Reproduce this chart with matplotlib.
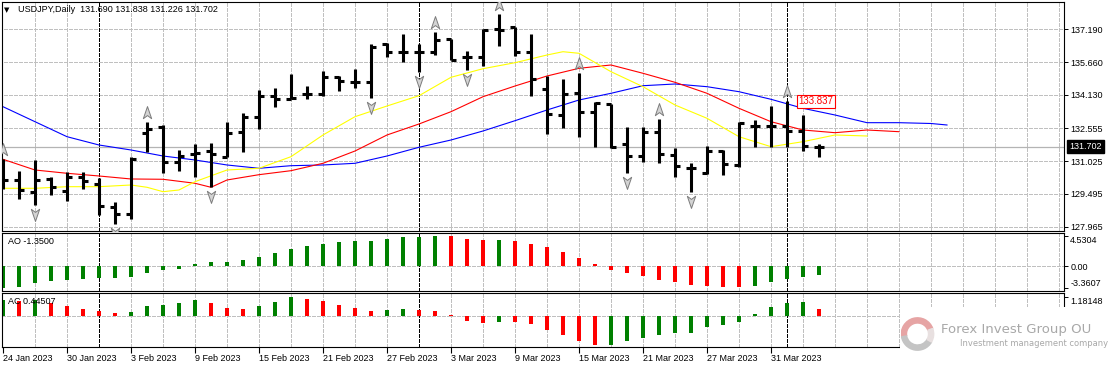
import numpy as np
import matplotlib
matplotlib.use('Agg')
import matplotlib.pyplot as plt
from matplotlib.path import Path
from matplotlib.patches import Wedge, Rectangle
from matplotlib.transforms import offset_copy, blended_transform_factory
from matplotlib import font_manager

plt.rcParams['font.family'] = ['Liberation Sans', 'DejaVu Sans']

symbol = 'USDJPY,Daily'
date_bars = [0, 4, 8, 12, 16, 20, 24, 28, 32, 36, 40, 44, 48]
date_labels = ['24 Jan 2023', '30 Jan 2023', '3 Feb 2023', '9 Feb 2023', '15 Feb 2023',
               '21 Feb 2023', '27 Feb 2023', '3 Mar 2023', '9 Mar 2023', '15 Mar 2023',
               '21 Mar 2023', '27 Mar 2023', '31 Mar 2023']
month_starts = [6, 26, 49]

opens = [130.386, 130.148, 129.601, 130.181, 129.634, 130.274, 129.961, 128.900, 128.559, 132.330,
         132.639, 131.003, 131.363, 131.517, 131.209, 132.405, 133.106, 134.087, 133.947, 134.153,
         134.153, 134.975, 134.741, 134.741, 136.489, 136.143, 136.115, 136.143, 136.723, 135.882,
         135.882, 137.190, 137.311, 136.115, 134.400, 133.185, 134.199, 133.340, 133.685, 131.830,
         131.283, 132.405, 131.316, 130.695, 130.461, 131.517, 130.849, 132.671, 132.671, 132.671,
         132.452, 131.690]
highs = [131.115, 130.569, 131.083, 130.302, 130.536, 130.536, 130.227, 129.106, 131.209, 132.872,
         132.718, 131.550, 131.816, 131.891, 132.872, 133.293, 134.354, 134.433, 135.101, 134.540,
         135.255, 135.008, 135.335, 136.503, 136.564, 136.956, 136.489, 137.078, 136.723, 136.190,
         137.190, 137.905, 137.311, 136.970, 135.008, 134.854, 135.134, 133.807, 133.685, 132.611,
         132.611, 132.984, 131.629, 130.956, 131.737, 131.550, 132.872, 132.952, 133.606, 133.837,
         133.185, 131.838]
lows = [129.713, 129.246, 128.980, 129.447, 129.181, 129.713, 128.512, 128.092, 128.311, 131.470,
        130.461, 130.583, 130.302, 129.835, 131.209, 131.470, 132.517, 133.573, 133.919, 133.919,
        134.087, 134.321, 134.461, 133.994, 135.882, 135.676, 135.209, 135.989, 135.755, 135.288,
        135.489, 136.424, 135.942, 134.087, 132.283, 132.564, 132.171, 131.704, 131.629, 130.489,
        131.003, 130.956, 130.302, 129.601, 130.428, 130.382, 130.741, 131.704, 131.704, 131.704,
        131.517, 131.226]
closes = [130.148, 129.681, 130.148, 129.807, 130.302, 130.101, 128.933, 128.559, 131.115, 132.531,
          131.003, 131.269, 131.424, 131.363, 132.358, 133.092, 134.087, 133.947, 133.980, 134.160,
          134.975, 134.774, 134.745, 136.349, 136.143, 136.150, 136.110, 136.690, 135.755, 135.910,
          137.157, 137.180, 136.143, 134.868, 133.218, 134.167, 133.340, 133.760, 131.676, 131.283,
          132.405, 131.363, 130.816, 130.690, 131.503, 130.882, 132.826, 132.665, 132.660, 132.452,
          131.737, 131.702]

# Alligator lines (shifted forward past the last bar)
jaw_idx = list(range(0, 59, 2)) + [59]
jaw_vals = [133.573, 132.872, 132.171, 131.783, 131.550, 131.269, 131.083, 130.849, 130.695, 130.816,
            130.849, 130.928, 131.269, 131.676, 132.017, 132.438, 132.919, 133.419, 133.886, 134.199,
            134.554, 134.634, 134.508, 134.274, 133.919, 133.498, 133.185, 132.826, 132.826, 132.788,
            132.718]
teeth_idx = [0, 2, 4, 6, 8, 10, 12, 13] + list(range(14, 57, 2))
teeth_vals = [131.115, 130.615, 130.461, 130.335, 130.195, 130.181, 129.994, 129.807, 130.148, 130.396,
              130.583, 130.928, 131.503, 132.251, 132.765, 133.340, 134.040, 134.540, 135.008, 135.368,
              135.522, 135.134, 134.713, 134.199, 133.498, 132.872, 132.484, 132.358, 132.484, 132.405]
lips_idx = [0, 2, 4, 6, 8, 9, 10, 11, 12] + list(range(14, 35, 2)) + [35] + list(range(36, 55, 2))
lips_vals = [129.760, 129.760, 129.835, 129.835, 129.914, 129.807, 129.601, 129.681, 130.069, 130.615,
             130.695, 131.237, 132.251, 133.106, 133.606, 134.087, 134.947, 135.349, 135.629, 135.989,
             136.143, 136.069, 135.209, 134.508, 133.653, 133.031, 132.171, 131.704, 131.938, 132.251,
             132.204]

fractal_up = [0, 9, 27, 31, 36, 41, 49]
fractal_down = [2, 7, 13, 23, 26, 29, 39, 43]

ao = [-3.3607, -3.07, -2.47, -2.22, -2.06, -1.91, -1.81, -1.71, -1.61, -0.96, -0.65, -0.40,
      0.35, 0.65, 0.70, 1.01, 1.41, 2.01, 2.62, 3.07, 3.37, 3.68, 3.83, 3.86, 4.13, 4.43, 4.48, 4.5304,
      4.50, 4.13, 3.98, 4.00, 3.83, 3.37, 2.92, 2.17, 1.26, 0.35,
      -0.55, -0.96, -1.46, -2.06, -2.32, -2.82, -2.97, -3.12, -3.22,
      -2.97, -2.32, -1.91, -1.61, -1.35]
ac = [0.98, 0.92, 0.98, 0.77, 0.61, 0.43, 0.31, 0.18, 0.24, 0.61, 0.67, 0.79, 0.98, 0.79, 0.49, 0.43,
      0.61, 0.86, 1.18148, 1.04, 0.92, 0.67, 0.49, 0.31, 0.37, 0.43, 0.37, 0.31, 0.08, -0.31, -0.43,
      -0.37, -0.39, -0.49, -0.86, -1.16, -1.53, -1.77, -1.75, -1.53, -1.36, -1.16, -1.06, -1.04,
      -0.67, -0.55, -0.37, 0.12, 0.57, 0.81, 0.83, 0.44507]

price_ticks = [137.190, 135.660, 134.130, 132.555, 131.025, 129.495, 127.965]
ao_ticks = [4.5304, 0.0, -3.3607]
ac_ticks = [1.18148]

W, H = 1110, 368
fig = plt.figure(figsize=(W / 100, H / 100), dpi=100)


def box(x0, y0, x1, y1):
    return [x0 / W, 1 - y1 / H, (x1 - x0) / W, (y1 - y0) / H]


ax = fig.add_axes(box(2, 2, 1064, 231))
ax_ao = fig.add_axes(box(2, 233, 1064, 291))
ax_ac = fig.add_axes(box(2, 293, 1064, 347))

grid_c = '#c0c0c0'
for a in (ax, ax_ao, ax_ac):
    a.set_xlim(-0.0625, 66.3125)
    for s in a.spines.values():
        s.set_linewidth(0.8)
        s.set_color('black')
    trans = blended_transform_factory(a.transData, a.transAxes)
    a.vlines(np.arange(2, 67, 2), 0, 1, transform=trans, colors=grid_c, lw=0.72,
             linestyles=(0, (3, 2)), zorder=0, antialiased=False)
    a.vlines(month_starts, 0, 1, transform=trans, colors='black', lw=0.72,
             linestyles=(0, (3, 2)), zorder=1, antialiased=False)
    a.yaxis.tick_right()
    a.tick_params(axis='y', labelsize=6.5, length=3, width=0.7, pad=1.5, colors='black')
    a.tick_params(axis='x', bottom=False, labelbottom=False)

# main price panel
ax.set_ylim(127.764, 138.466)
ax.set_yticks(price_ticks)
ax.set_yticklabels(['%.3f' % v for v in price_ticks])
ax.hlines(price_ticks, -1, 70, colors=grid_c, lw=0.72, linestyles=(0, (3, 2)), zorder=0,
          antialiased=False)
ax.axhline(closes[-1], color='#b4b4b4', lw=0.9, zorder=1)

idx = np.arange(len(opens))
ax.plot(jaw_idx, jaw_vals, color='#0000ff', lw=0.8, zorder=2)
ax.plot(teeth_idx, teeth_vals, color='#ff0000', lw=0.8, zorder=2)
ax.plot(lips_idx, lips_vals, color='#ffff00', lw=0.8, zorder=2)

ax.vlines(idx, lows, highs, colors='black', lw=2.2, capstyle='butt', zorder=3)
ax.hlines(opens, idx - 0.3, idx, colors='black', lw=2.2, capstyle='butt', zorder=3)
ax.hlines(closes, idx, idx + 0.3, colors='black', lw=2.2, capstyle='butt', zorder=3)

up_arrow = Path([(0, 1), (0.6, -0.75), (0, -0.3), (-0.6, -0.75), (0, 1)],
                [Path.MOVETO, Path.LINETO, Path.LINETO, Path.LINETO, Path.CLOSEPOLY])
down_arrow = Path([(0, -1), (0.6, 0.75), (0, 0.3), (-0.6, 0.75), (0, -1)],
                  [Path.MOVETO, Path.LINETO, Path.LINETO, Path.LINETO, Path.CLOSEPOLY])
ax.plot(fractal_up, [highs[i] for i in fractal_up], ls='none', marker=up_arrow, ms=10,
        mfc='#d4d4d4', mec='#7c7c7c', mew=0.7, zorder=4,
        transform=offset_copy(ax.transData, fig, x=0, y=9, units='dots'))
ax.plot(fractal_down, [lows[i] for i in fractal_down], ls='none', marker=down_arrow, ms=10,
        mfc='#d4d4d4', mec='#7c7c7c', mew=0.7, zorder=4,
        transform=offset_copy(ax.transData, fig, x=0, y=-9, units='dots'))

ax.text(49.7, highs[49], '%.3f' % highs[49], color='red', fontsize=7, ha='left', va='center',
        zorder=5, bbox=dict(boxstyle='square,pad=0.15', fc='white', ec='red', lw=0.8))
ax.text(1 + 5 / 1062, closes[-1], '%.3f' % closes[-1], color='white', fontsize=6.5,
        ha='left', va='center', transform=blended_transform_factory(ax.transAxes, ax.transData),
        bbox=dict(boxstyle='square,pad=0.25', fc='black', ec='black'), clip_on=False)

fig.text(4 / W, 1 - 10 / H, '\u25bc', fontsize=5, va='center', family='DejaVu Sans')
fig.text(18 / W, 1 - 10 / H, '%s  %.3f %.3f %.3f %.3f' % (symbol, opens[-1], highs[-1], lows[-1], closes[-1]),
         fontsize=6.5, va='center')


def bar_colors(vals):
    cols = ['#008000']
    for k in range(1, len(vals)):
        cols.append('#008000' if vals[k] > vals[k - 1] else '#ff0000')
    return cols


# AO panel
ax_ao.set_ylim(-3.75, 5.02)
ax_ao.axhline(0, color=grid_c, lw=0.72, ls=(0, (3, 2)), zorder=0, antialiased=False)
ax_ao.bar(idx, ao, width=0.19, color=bar_colors(ao), linewidth=0, zorder=2)
ax_ao.set_yticks(ao_ticks)
ax_ao.set_yticklabels(['4.5304', '0.00', '-3.3607'])
labs = ax_ao.get_yticklabels()
labs[0].set_va('top')
labs[2].set_va('bottom')
fig.text(8 / W, 1 - 241 / H, 'AO %.4f' % ao[-1], fontsize=6.5, va='center')

# AC panel
ax_ac.set_ylim(-1.89, 1.405)
ax_ac.axhline(0, color=grid_c, lw=0.72, ls=(0, (3, 2)), zorder=0, antialiased=False)
ax_ac.bar(idx, ac, width=0.19, color=bar_colors(ac), linewidth=0, zorder=2)
ax_ac.set_yticks(ac_ticks)
ax_ac.set_yticklabels(['1.18148'])
ax_ac.get_yticklabels()[0].set_va('top')
fig.text(8 / W, 1 - 302 / H, 'AC %.5f' % ac[-1], fontsize=6.5, va='center')

ax_ac.tick_params(axis='x', bottom=True, labelbottom=True, length=4, width=0.8, pad=1,
                  labelsize=6.5)
ax_ac.set_xticks(date_bars)
ax_ac.set_xticklabels(date_labels)
for lbl in ax_ac.get_xticklabels():
    lbl.set_ha('left')

# watermark
fig.add_artist(Rectangle((900 / W, 0), 210 / W, (H - 307) / H, transform=fig.transFigure,
                         fc='white', ec='none', zorder=10))
logo = fig.add_axes(box(900, 317, 935, 351), zorder=11)
logo.set_xlim(-1.05, 1.05)
logo.set_ylim(-1.05, 1.05)
logo.set_aspect('equal')
logo.axis('off')
logo.add_patch(Wedge((0, 0), 1, 20, 190, width=0.32, color='#e6a4a4'))
logo.add_patch(Wedge((0, 0), 1, 190, 330, width=0.32, color='#c4c4c4'))
logo.add_patch(Wedge((0, 0), 1, 330, 380, width=0.32, color='#e8e0e0'))

try:
    font_manager.findfont('Liberation Sans Narrow', fallback_to_default=False)
    narrow, big, small = 'Liberation Sans Narrow', 12.5, 8
except ValueError:
    narrow, big, small = 'DejaVu Sans', 9.5, 6
fig.text(941 / W, 1 - 330 / H, 'Forex Invest Group OU', fontsize=big, color='#a8a8a8',
         va='center', family=narrow, zorder=12)
fig.text(960 / W, 1 - 344 / H, 'Investment management company', fontsize=small, color='#a8a8a8',
         va='center', family=narrow, zorder=12)

fig.savefig('out.png', dpi=100)
